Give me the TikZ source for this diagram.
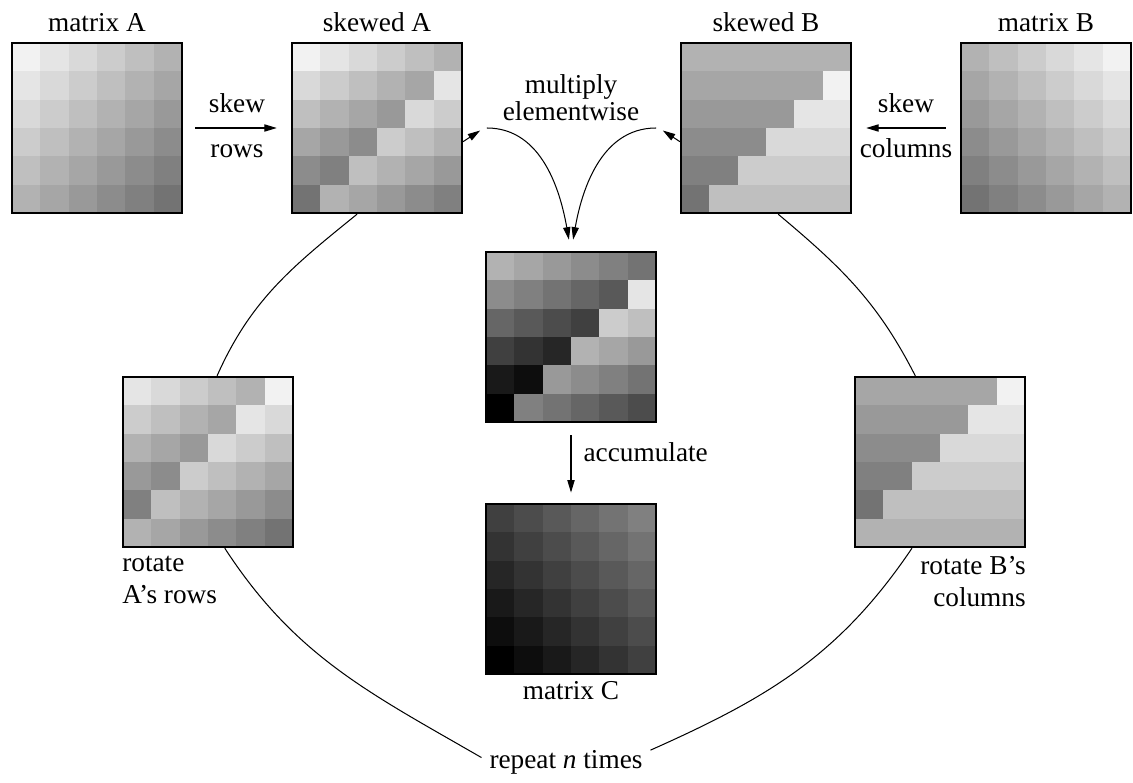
\documentclass[tikz,border=0pt]{standalone}
\usepackage{fontspec}
\setmainfont{Liberation Serif}
\usetikzlibrary{positioning,arrows.meta}

% cells of a 6x6 matrix: centre (#1,#2), grey level #3 in \i (row) and \j (column)
\newcommand\matcells[3]{%
  \foreach \i in {0,...,5}{%
    \foreach \j in {0,...,5}{%
      \pgfmathsetmacro\cellg{min(1,max(0,#3))}%
      \definecolor{cellgray}{gray}{\cellg}%
      \fill[cellgray] ({#1-85+\j*28.333},{#2+85-\i*28.333}) rectangle ++(28.6,-28.6);
    }}}

\begin{document}
\begin{tikzpicture}[
        x=0.44pt, y=0.44pt,
        font=\fontsize{12}{14}\selectfont,
        mat/.style={draw, line width=1pt, minimum size=74.8pt, inner sep=0pt}, % input matrices
        res/.style={draw, line width=0.45pt, minimum size=74.8pt, inner sep=0pt}, % results
        lbl/.style={text height=1.6ex, text depth=.25ex},
        arr/.style={-{Triangle[length=5.5pt, width=3.2pt]}, line width=0.45pt},
        link/.style={line width=0.45pt},
    ]
    \useasboundingbox (0,0) rectangle (1133,782);

    % grey cells
    \matcells{97}{654}{0.95-0.05*(\i+\j)}
    \matcells{377}{654}{0.95-0.05*(\i+mod(\i+\j,6))}
    \matcells{766}{654}{0.7-0.05*mod(\i+\j,6)+0.05*\j}
    \matcells{1046}{654}{0.7-0.05*\i+0.05*\j}
    \matcells{208}{320}{0.95-0.05*(\i+mod(\i+\j+1,6))}
    \matcells{940}{320}{0.7-0.05*mod(\i+\j+1,6)+0.05*\j}
    \matcells{571}{445}{0.7-0.05*\i-0.1*mod(\i+\j,6)+0.05*\j}
    \matcells{571}{193}{0.25-0.05*\i+0.05*\j}

    % matrices
    \node[mat] (matA) at (97,654) {};
    \node[mat] (skA) at (377,654) {};
    \node[mat] (skB) at (766,654) {};
    \node[mat] (matB) at (1046,654) {};
    \node[mat] (rotA) at (208,320) {};
    \node[mat] (rotB) at (940,320) {};
    \node[res] (prod) at (571,445) {};
    \node[res] (matC) at (571,193) {};

    % labels
    \node[lbl, above=0pt of matA] (labA) {matrix A};
    \node[lbl, above=0pt of skA] (labSA) {skewed A};
    \node[lbl, above=0pt of skB] (labSB) {skewed B};
    \node[lbl, above=0pt of matB] (labB) {matrix B};
    \node[lbl, below=0pt of matC] (labC) {matrix C};
    \node[align=left, anchor=north west, inner xsep=0pt] (labRA) at (rotA.south west) {rotate\\A’s rows};
    \node[align=right, anchor=north east, inner xsep=0pt] (labRB) at (rotB.south east) {rotate B’s\\columns};
    \node[align=center] (mult) at (571,684) {multiply\\[-2pt]elementwise};
    \node (rep) at (566,20) {repeat \textit{n} times};
    \coordinate (mL) at (484,654);
    \coordinate (mR) at (659,654);

    % connectors
    \draw[arr, shorten <=5.3pt, shorten >=6.2pt] (matA) -- (skA)
        node[lbl, midway, above=2pt] {skew} node[lbl, midway, below=2pt] {rows};
    \draw[arr, shorten <=6.2pt, shorten >=6.2pt] (matB) -- (skB)
        node[lbl, midway, above=2pt] {skew} node[lbl, midway, below=2pt] {columns};
    \draw[arr, shorten >=2pt] (skA.-9) -- (mL);
    \draw[arr, shorten >=2pt] (skB.189) -- (mR);
    \draw[arr, shorten <=1.3pt, shorten >=5.3pt] (mL) to[out=0, in=100] (prod.north);
    \draw[arr, shorten <=1.3pt, shorten >=5.3pt] (mR) to[out=180, in=80] (prod.north);
    \draw[arr, shorten <=5.7pt, shorten >=4.8pt] (prod) -- (matC)
        node[lbl, pos=.4, right=2pt] {accumulate};
    \draw[link] (skA.-103) to[out=-141, in=66] (rotA.84);
    \draw[link] (skB.-82) to[out=-40, in=117] (rotB.106);
    \draw[link] (rotA.-79) to[out=-57, in=150] (rep.177);
    \draw[link] (rotB.-108) to[out=-124, in=24] (rep.8);
\end{tikzpicture}
\end{document}
